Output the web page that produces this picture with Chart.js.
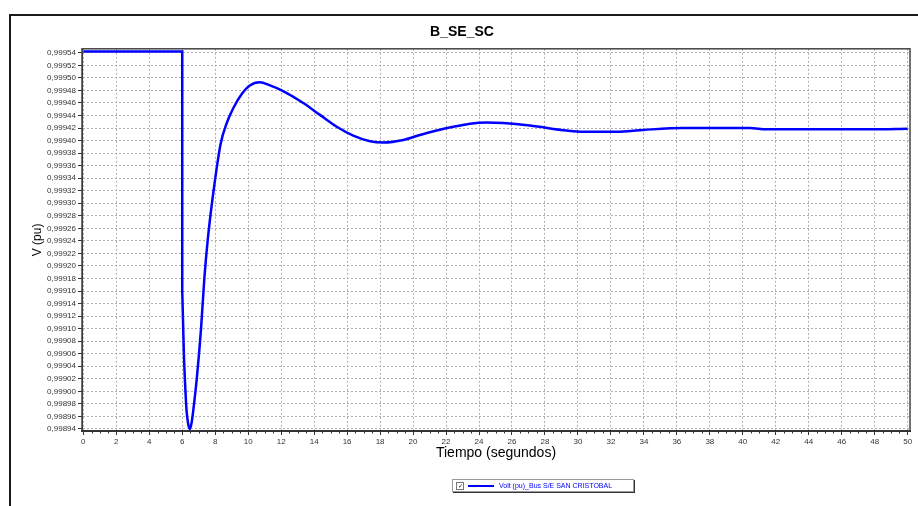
<!DOCTYPE html>
<html>
<head>
<meta charset="utf-8">
<script src="https://cdn.jsdelivr.net/npm/chart.js@4"></script>
<style>
    body { margin: 0; background: #fff; }
    #wrap { position: relative; width: 918px; height: 506px; overflow: hidden; }
    #frame { position: absolute; left: 9px; top: 14px; width: 940px; height: 530px; border: 2px solid #1a1a1a; }
    #busChart { position: absolute; left: 0; top: 0; }
    #legend {
        position: absolute; left: 452px; top: 479px; width: 180px; height: 11px;
        border: 1px solid #9a9a9a; box-shadow: 1px 1px 0 #333; background: #fff;
        font: 7px Arial, "Liberation Sans", sans-serif; color: #0000ff; white-space: nowrap;
    }
    #legend .chk {
        position: absolute; left: 3px; top: 2px; width: 6px; height: 6px;
        border: 1px solid #777; font-size: 6px; line-height: 6px; color: #000; text-align: center;
    }
    #legend .swatch { position: absolute; left: 15px; top: 5px; width: 26px; height: 2px; background: #0000ff; }
    #legend .txt { position: absolute; left: 46px; top: 1px; line-height: 9px; }
</style>
</head>
<body>
<div id="wrap">
    <div id="frame"></div>
    <canvas id="busChart" width="918" height="506"></canvas>
    <div id="legend"><span class="chk">&#10003;</span><span class="swatch"></span><span class="txt" id="legendText"></span></div>
</div>
<script>
// Pre-fault step: time (s) and voltage (pu)
const stepTime = [0, 6.0, 6.0];
const stepVolt = [0.999542, 0.999542, 0.99916];

// Dynamic response after the step
const timeSec = [
    6.0, 6.05, 6.1, 6.16, 6.26, 6.36, 6.47, 6.58, 6.67, 6.88, 7.14, 7.34, 7.54, 7.85,
    8.33, 8.7, 9.1, 9.6, 10.1, 10.7, 11.32, 12.03, 13.34, 14.35, 15.37, 16.37, 17.39, 18.2,
    19.41, 20.42, 21.43, 22.44, 23.45, 24.46, 25.47, 27.09, 29.31, 30.32, 32.35, 33.96,
    36.37, 40.43, 41.44, 43.46, 47.8, 50
];
const voltPu = [
    0.99916, 0.99911, 0.99906, 0.99902, 0.99897, 0.998948, 0.99894, 0.998952, 0.99897, 0.99902, 0.99910, 0.99918, 0.99924, 0.99931,
    0.999395, 0.999428, 0.999452, 0.999474, 0.999488, 0.999493, 0.999488, 0.99948, 0.99946, 0.999441, 0.999422, 0.999408, 0.999399, 0.999397,
    0.999401, 0.999409, 0.999416, 0.999422, 0.999427, 0.999429, 0.999428, 0.999424, 0.999416, 0.999414, 0.999414, 0.999417,
    0.99942, 0.99942, 0.999418, 0.999418, 0.999418, 0.999419
];
const xTickValues = [0, 2, 4, 6, 8, 10, 12, 14, 16, 18, 20, 22, 24, 26, 28, 30, 32, 34, 36, 38, 40, 42, 44, 46, 48, 50];
const yTickValues = [
    0.99894, 0.99896, 0.99898, 0.99900, 0.99902, 0.99904, 0.99906, 0.99908, 0.99910, 0.99912,
    0.99914, 0.99916, 0.99918, 0.99920, 0.99922, 0.99924, 0.99926, 0.99928, 0.99930, 0.99932,
    0.99934, 0.99936, 0.99938, 0.99940, 0.99942, 0.99944, 0.99946, 0.99948, 0.99950, 0.99952, 0.99954
];
const seriesName = 'Volt (pu)_Bus S/E SAN CRISTOBAL';

document.getElementById('legendText').textContent = seriesName;

const fontFamily = 'Arial, "Liberation Sans", sans-serif';
const toPoints = (xs, ys) => xs.map((t, i) => ({ x: t, y: ys[i] }));

// plot frame + minor ticks on the time axis
const plotFrame = {
    id: 'plotFrame',
    beforeDatasetsDraw(chart) {
        const { ctx, chartArea: a } = chart;
        ctx.save();
        ctx.strokeStyle = '#444';
        ctx.lineWidth = 1.5;
        ctx.strokeRect(a.left, a.top, a.right - a.left, a.bottom - a.top);
        ctx.restore();
    },
    afterDraw(chart) {
        const { ctx, chartArea: a } = chart;
        const xs = chart.scales.x;
        ctx.save();
        ctx.strokeStyle = '#333';
        ctx.lineWidth = 1;
        for (let v = 0.5; v < 50; v += 0.5) {
            if (v % 2 === 0) continue;
            const px = Math.round(xs.getPixelForValue(v)) + 0.5;
            ctx.beginPath();
            ctx.moveTo(px, a.bottom);
            ctx.lineTo(px, a.bottom + 2.5);
            ctx.stroke();
        }
        ctx.restore();
    }
};

const ctx = document.getElementById('busChart').getContext('2d');
const busChart = new Chart(ctx, {
    type: 'line',
    data: {
        datasets: [
            {
                label: seriesName,
                data: toPoints(stepTime, stepVolt),
                borderColor: '#0000ff',
                borderWidth: 2.5,
                pointRadius: 0,
                tension: 0,
                fill: false
            },
            {
                label: seriesName,
                data: toPoints(timeSec, voltPu),
                borderColor: '#0000ff',
                borderWidth: 2.5,
                pointRadius: 0,
                cubicInterpolationMode: 'monotone',
                fill: false
            }
        ]
    },
    options: {
        responsive: false,
        animation: false,
        devicePixelRatio: 1,
        layout: { padding: { left: 14, right: 8, top: 0, bottom: 35 } },
        plugins: {
            legend: { display: false },
            tooltip: { enabled: false },
            title: {
                display: true,
                text: 'B_SE_SC',
                color: '#000',
                font: { family: fontFamily, size: 14, weight: 'bold' },
                padding: { top: 24, bottom: 8 }
            }
        },
        scales: {
            x: {
                type: 'linear',
                min: -0.08,
                max: 50.14,
                afterBuildTicks: s => { s.ticks = xTickValues.map(v => ({ value: v })); },
                afterFit: s => { s.height = 40; },
                ticks: {
                    autoSkip: false, maxRotation: 0, padding: 2, color: '#333',
                    font: { family: fontFamily, size: 8 },
                    callback: v => String(v)
                },
                grid: { color: '#b0b0b0', lineWidth: 1, tickLength: 4, tickColor: '#333', tickBorderDash: [] },
                border: { display: true, color: '#000', width: 2, dash: [2, 2] },
                title: {
                    display: true, text: 'Tiempo (segundos)', color: '#000',
                    font: { family: fontFamily, size: 14 },
                    padding: { top: 0, bottom: 9 }
                }
            },
            y: {
                type: 'linear',
                min: 0.9989368,
                max: 0.9995464,
                afterBuildTicks: s => { s.ticks = yTickValues.map(v => ({ value: v })); },
                afterFit: s => { s.width = 68; },
                ticks: {
                    autoSkip: false, padding: 2, color: '#333',
                    font: { family: fontFamily, size: 8 },
                    callback: v => v.toFixed(5).replace('.', ',')
                },
                grid: { color: '#b0b0b0', lineWidth: 1, tickLength: 4, tickColor: '#333', tickBorderDash: [] },
                border: { display: true, color: '#222', width: 1, dash: [2, 2] },
                title: {
                    display: true, text: 'V (pu)', color: '#000',
                    font: { family: fontFamily, size: 12 },
                    padding: { top: 16, bottom: 0 }
                }
            }
        }
    },
    plugins: [plotFrame]
});
</script>
</body>
</html>
